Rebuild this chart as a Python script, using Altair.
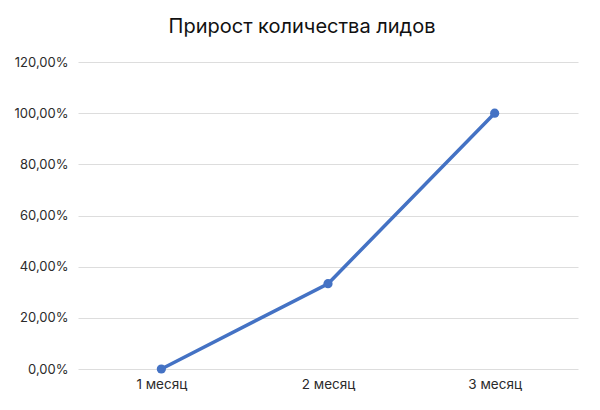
import altair as alt
import pandas as pd

months = ["1 месяц", "2 месяц", "3 месяц"]
growth = [0.0, 0.3333, 1.0]

df = pd.DataFrame({"month": months, "growth": growth})

base = alt.Chart(df).encode(
    x=alt.X("month:N", sort=months, title=None,
            scale=alt.Scale(type="point", padding=0.5),
            axis=alt.Axis(labelAngle=0, domain=False, ticks=False, grid=False,
                          labelPadding=8, labelFontSize=13.5, labelColor="#2b2b2b",
                          labelFont="Inter")),
    y=alt.Y("growth:Q", title=None,
            scale=alt.Scale(domain=[0, 1.2], nice=False),
            axis=alt.Axis(format=".2%", values=[0, 0.2, 0.4, 0.6, 0.8, 1.0, 1.2],
                          domain=False, ticks=False, gridColor="#dddddd",
                          labelPadding=10, labelFontSize=13, labelColor="#2b2b2b",
                          labelFont="Inter",
                          labelExpr="replace(datum.label, '.', ',')")),
)

line = base.mark_line(color="#4472C4", strokeWidth=3.5)
pts = base.mark_point(filled=True, color="#4472C4", size=85, opacity=1)

chart = (line + pts).properties(
    width=500, height=307,
    autosize=alt.AutoSizeParams(type="none"),
    padding={"left": 70, "top": 54, "right": 14, "bottom": 41},
    title=alt.TitleParams("Прирост количества лидов", fontSize=20, font="Inter",
                          fontWeight="normal", color="#111111", anchor="middle",
                          dx=-26, offset=19),
).configure_view(stroke=None)

chart.save("out.html", embed_options={"renderer": "svg", "actions": False})
